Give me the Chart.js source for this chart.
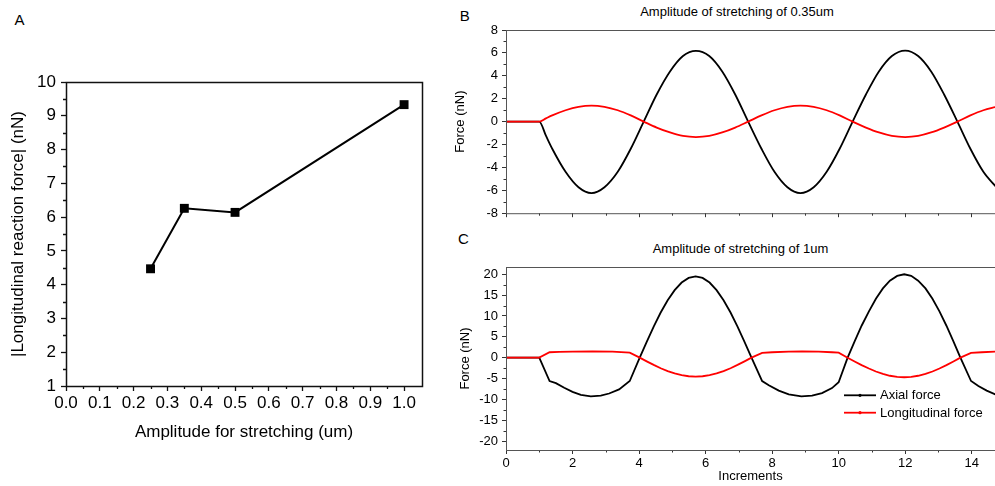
<!DOCTYPE html>
<html><head><meta charset="utf-8">
<script src="https://cdn.jsdelivr.net/npm/chart.js@4/dist/chart.umd.min.js"></script>
<style>
html,body{margin:0;padding:0;background:#fff;overflow:hidden;width:995px;height:486px;}
canvas{position:absolute;}
.lbl{position:absolute;font-family:"Liberation Sans",Arial,Helvetica,sans-serif;color:#000;white-space:nowrap;transform:translate(-50%,-50%);line-height:normal;}
</style></head><body>
<div class="lbl" style="left:19.5px;top:18.7px;font-size:15px">A</div>
<div class="lbl" style="left:464.8px;top:15.3px;font-size:15px">B</div>
<div class="lbl" style="left:463.4px;top:237.8px;font-size:15px">C</div>
<div class="lbl" style="left:737px;top:11px;font-size:13px">Amplitude of stretching of 0.35um</div>
<div class="lbl" style="left:740.5px;top:247.7px;font-size:13px">Amplitude of stretching of 1um</div>
<canvas id="ca" width="440" height="486" style="left:0;top:0"></canvas>
<canvas id="cb" width="555" height="225" style="left:440px;top:0"></canvas>
<canvas id="cc" width="555" height="256" style="left:440px;top:230px"></canvas>
<script>
// ---------- Panel A data ----------
const amplitude = [0.25, 0.35, 0.5, 1.0];
const reactionForce = [4.47, 6.26, 6.14, 9.33];
const ampTicks = [0, 0.1, 0.2, 0.3, 0.4, 0.5, 0.6, 0.7, 0.8, 0.9, 1.0];
const ampMinor = [0.05, 0.15, 0.25, 0.35, 0.45, 0.55, 0.65, 0.75, 0.85, 0.95];
const reactTicks = [1, 2, 3, 4, 5, 6, 7, 8, 9, 10];
const reactMinor = [1.5, 2.5, 3.5, 4.5, 5.5, 6.5, 7.5, 8.5, 9.5];

// ---------- Panel B data (amplitude 0.35um) ----------
const incB = [0, 1, 1.2, 1.39, 1.79, 2.18, 2.57, 2.96, 3.36, 3.75, 4.14, 4.53, 4.93, 5.32, 5.71, 6.11, 6.50, 6.89, 7.28, 7.68, 8.07, 8.46, 8.85, 9.25, 9.64, 10.03, 10.42, 10.82, 11.21, 11.60, 12.00, 12.39, 12.78, 13.17, 13.57, 13.96, 14.35, 14.74];
const axialB = [0, 0, -1.23, -2.37, -4.38, -5.73, -6.24, -5.73, -4.38, -2.37, 0, 2.37, 4.38, 5.73, 6.18, 5.73, 4.38, 2.37, 0, -2.37, -4.38, -5.73, -6.24, -5.73, -4.38, -2.37, 0, 2.37, 4.38, 5.73, 6.2, 5.73, 4.38, 2.37, 0, -2.37, -4.38, -5.73];
const longB = [0, 0, 0.28, 0.54, 0.99, 1.29, 1.4, 1.29, 0.99, 0.54, 0, -0.52, -0.95, -1.25, -1.35, -1.25, -0.95, -0.52, 0, 0.54, 0.99, 1.29, 1.4, 1.29, 0.99, 0.54, 0, -0.52, -0.95, -1.25, -1.35, -1.25, -0.95, -0.52, 0, 0.54, 0.99, 1.29];
const forceTicksB = [-8, -6, -4, -2, 0, 2, 4, 6, 8];
const forceMinorB = [-7, -5, -3, -1, 1, 3, 5, 7];

// ---------- Panel C data (amplitude 1um) ----------
const incCAxial = [0, 1.0, 1.31, 1.5, 1.75, 2.0, 2.25, 2.55, 2.85, 3.1, 3.4, 3.72,
  4.02, 4.23, 4.44, 4.65, 4.86, 5.07, 5.28, 5.49, 5.70, 5.91, 6.12, 6.33, 6.54, 6.75, 6.96, 7.17, 7.38,
  7.7, 7.9, 8.2, 8.5, 8.88, 9.2, 9.5, 9.8, 10.0,
  10.27, 10.48, 10.69, 10.91, 11.12, 11.33, 11.54, 11.76, 11.97, 12.18, 12.39, 12.61, 12.82, 13.03, 13.24, 13.45, 13.66,
  13.98, 14.2, 14.45, 14.73];
const axialC = [0, 0, -5.6, -6.1, -7.2, -8.2, -8.9, -9.3, -9.1, -8.6, -7.6, -5.6,
  0, 3.8, 7.47, 10.84, 13.79, 16.2, 18.02, 19.13, 19.5, 19.13, 18.02, 16.2, 13.79, 10.84, 7.47, 3.8, 0,
  -5.6, -6.6, -7.9, -8.8, -9.3, -9.1, -8.5, -7.3, -5.9,
  0, 3.9, 7.66, 11.12, 14.14, 16.62, 18.48, 19.62, 20.0, 19.62, 18.48, 16.62, 14.14, 11.12, 7.66, 3.9, 0,
  -5.6, -6.8, -7.9, -8.9];
const incCLong = [0, 1.0, 1.31, 1.6, 2.0, 2.6, 3.2, 3.72,
  4.02, 4.23, 4.44, 4.65, 4.86, 5.07, 5.28, 5.49, 5.70, 5.91, 6.12, 6.33, 6.54, 6.75, 6.96, 7.17, 7.38,
  7.7, 8.0, 8.5, 8.9, 9.4, 9.8, 10.0,
  10.27, 10.48, 10.69, 10.91, 11.12, 11.33, 11.54, 11.76, 11.97, 12.18, 12.39, 12.61, 12.82, 13.03, 13.24, 13.45, 13.66,
  13.98, 14.3, 14.73];
const longC = [0, 0, 1.3, 1.38, 1.45, 1.53, 1.45, 1.2,
  0, -0.89, -1.74, -2.53, -3.22, -3.78, -4.2, -4.46, -4.55, -4.46, -4.2, -3.78, -3.22, -2.53, -1.74, -0.89, 0,
  1.15, 1.3, 1.45, 1.5, 1.45, 1.3, 1.2,
  0, -0.92, -1.8, -2.61, -3.32, -3.91, -4.34, -4.61, -4.7, -4.61, -4.34, -3.91, -3.32, -2.61, -1.8, -0.92, 0,
  1.15, 1.3, 1.45];
const forceTicksC = [-20, -15, -10, -5, 0, 5, 10, 15, 20];
const forceMinorC = [-17.5, -12.5, -7.5, -2.5, 2.5, 7.5, 12.5, 17.5];

const incTicks = [0, 2, 4, 6, 8, 10, 12, 14];
const incMinor = [1, 3, 5, 7, 9, 11, 13];

const seriesNames = ['Axial force', 'Longitudinal force'];

// ---------- helpers ----------
const FONT = '"Liberation Sans", Arial, Helvetica, sans-serif';
const pts = (xs, ys) => xs.map((x, i) => ({x: x, y: ys[i]}));

const framePlugin = {
  id: 'frame',
  afterDraw(chart, args, o) {
    const ctx = chart.ctx;
    const {left, right, top, bottom} = chart.chartArea;
    const xs = chart.scales.x, ys = chart.scales.y;
    ctx.save();
    ctx.strokeStyle = o.tickColor; ctx.lineWidth = o.tickWidth;
    ctx.beginPath();
    (o.minorX || []).forEach(v => { const p = Math.round(xs.getPixelForValue(v)) + 0.5; ctx.moveTo(p, bottom); ctx.lineTo(p, bottom + o.minorLen); });
    (o.minorY || []).forEach(v => { const p = Math.round(ys.getPixelForValue(v)) + 0.5; ctx.moveTo(left, p); ctx.lineTo(left - o.minorLen, p); });
    ctx.stroke();
    ctx.strokeStyle = o.color; ctx.lineWidth = o.width;
    ctx.strokeRect(left + 0.5, top + 0.5, right - left, bottom - top);
    ctx.restore();
  }
};

const legendPlugin = {
  id: 'inlineLegend',
  afterDraw(chart, args, o) {
    if (!o || !o.items) return;
    const ctx = chart.ctx;
    ctx.save();
    o.items.forEach((idx, i) => {
      const ds = chart.data.datasets[idx];
      const y = o.y + i * o.gap;
      ctx.strokeStyle = ds.borderColor; ctx.lineWidth = 1.8;
      ctx.beginPath(); ctx.moveTo(o.x, y); ctx.lineTo(o.x + o.len, y); ctx.stroke();
      ctx.fillStyle = ds.borderColor;
      ctx.beginPath(); ctx.arc(o.x + o.len / 2, y, 1.6, 0, Math.PI * 2); ctx.fill();
      ctx.fillStyle = '#000';
      ctx.font = '13px ' + FONT;
      ctx.textAlign = 'left'; ctx.textBaseline = 'middle';
      ctx.fillText(ds.label, o.x + o.len + 4, y + 0.5);
    });
    ctx.restore();
  }
};

function scaleOpts(cfg) {
  return {
    type: 'linear', min: cfg.min, max: cfg.max,
    afterBuildTicks: s => { s.ticks = cfg.ticks.map(v => ({value: v})); },
    afterFit: s => { if (cfg.width !== undefined) s.width = cfg.width; if (cfg.height !== undefined) s.height = cfg.height; },
    grid: {display: true, drawOnChartArea: false, drawTicks: true, tickLength: cfg.tickLen, tickColor: cfg.tickColor, tickWidth: cfg.tickWidth},
    border: {display: false},
    ticks: {display: cfg.showLabels !== false, color: '#000', font: {family: FONT, size: cfg.fontSize}, padding: cfg.labelPad, maxRotation: 0, autoSkip: false, callback: cfg.fmt || (v => String(v))},
    title: cfg.title ? {display: true, text: cfg.title, color: '#000', font: {family: FONT, size: cfg.fontSize}, padding: cfg.titlePad} : {display: false}
  };
}

const common = {responsive: false, animation: false, events: [], maintainAspectRatio: false};

// ---------- Panel A ----------
new Chart(document.getElementById('ca'), {
  type: 'line',
  data: {datasets: [{
    label: '|Longitudinal reaction force|',
    data: pts(amplitude, reactionForce),
    borderColor: '#000', backgroundColor: '#000', borderWidth: 2,
    pointStyle: 'rect', pointRadius: 6.3, pointBackgroundColor: '#000', pointBorderColor: '#000', pointBorderWidth: 0,
    tension: 0
  }]},
  options: Object.assign({}, common, {
    layout: {padding: {top: 82, right: 18, left: 0, bottom: 0}},
    plugins: {legend: {display: false}, tooltip: {enabled: false},
      frame: {color: '#111', width: 1.5, tickColor: '#111', tickWidth: 1.3, minorLen: 3, minorX: ampMinor, minorY: reactMinor}},
    scales: {
      x: scaleOpts({min: 0, max: 1.053, ticks: ampTicks, height: 100, tickLen: 5, tickColor: '#111', tickWidth: 1.3, fontSize: 17, labelPad: 2,
        fmt: v => Number(v).toFixed(1), title: 'Amplitude for stretching (um)', titlePad: {top: 0, bottom: 43}}),
      y: scaleOpts({min: 1, max: 10, ticks: reactTicks, width: 66, tickLen: 5, tickColor: '#111', tickWidth: 1.3, fontSize: 17, labelPad: 5,
        title: '|Longitudinal reaction force| (nN)', titlePad: {top: 8, bottom: 0}})
    }
  }),
  plugins: [framePlugin]
});

// ---------- Panel B ----------
new Chart(document.getElementById('cb'), {
  type: 'line',
  data: {datasets: [
    {label: seriesNames[0], data: pts(incB, axialB), borderColor: '#000', borderWidth: 1.8, pointRadius: 0, cubicInterpolationMode: 'monotone', order: 1},
    {label: seriesNames[1], data: pts(incB, longB), borderColor: '#ff0000', borderWidth: 1.8, pointRadius: 0, cubicInterpolationMode: 'monotone', order: 0}
  ]},
  options: Object.assign({}, common, {
    layout: {padding: {top: 30, right: 0, left: 0, bottom: 0}},
    plugins: {legend: {display: false}, tooltip: {enabled: false},
      frame: {color: '#555', width: 1, tickColor: '#333', tickWidth: 1, minorLen: 2.5, minorX: incMinor, minorY: forceMinorB}},
    scales: {
      x: scaleOpts({min: 0, max: 14.7, ticks: incTicks, height: 11, tickLen: 4, tickColor: '#333', tickWidth: 1, fontSize: 13, labelPad: 2, showLabels: false}),
      y: scaleOpts({min: -8, max: 8, ticks: forceTicksB, width: 66, tickLen: 4, tickColor: '#333', tickWidth: 1, fontSize: 13, labelPad: 4,
        title: 'Force (nN)', titlePad: {top: 13, bottom: 0}})
    }
  }),
  plugins: [framePlugin]
});

// ---------- Panel C ----------
new Chart(document.getElementById('cc'), {
  type: 'line',
  data: {datasets: [
    {label: seriesNames[0], data: pts(incCAxial, axialC), borderColor: '#000', borderWidth: 1.8, pointRadius: 0, tension: 0, order: 1},
    {label: seriesNames[1], data: pts(incCLong, longC), borderColor: '#ff0000', borderWidth: 1.8, pointRadius: 0, tension: 0, order: 0}
  ]},
  options: Object.assign({}, common, {
    layout: {padding: {top: 37, right: 0, left: 0, bottom: 0}},
    plugins: {legend: {display: false}, tooltip: {enabled: false},
      frame: {color: '#555', width: 1, tickColor: '#333', tickWidth: 1, minorLen: 2.5, minorX: incMinor, minorY: forceMinorC},
      inlineLegend: {items: [0, 1], x: 404, y: 165.3, gap: 17.4, len: 32}},
    scales: {
      x: scaleOpts({min: 0, max: 14.7, ticks: incTicks, height: 36, tickLen: 4, tickColor: '#333', tickWidth: 1, fontSize: 13, labelPad: 2,
        title: 'Increments', titlePad: {top: 0, bottom: 1.5}}),
      y: scaleOpts({min: -22.15, max: 21.75, ticks: forceTicksC, width: 66, tickLen: 4, tickColor: '#333', tickWidth: 1, fontSize: 13, labelPad: 4,
        title: 'Force (nN)', titlePad: {top: 17.5, bottom: 0}})
    }
  }),
  plugins: [framePlugin, legendPlugin]
});
</script>
</body></html>
